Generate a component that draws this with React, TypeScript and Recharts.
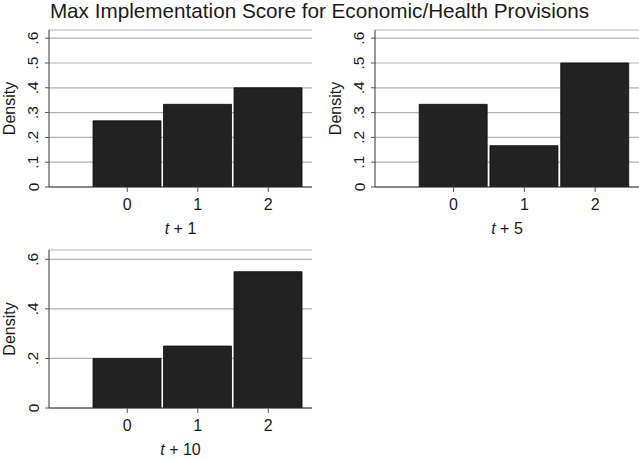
import React from 'react';
import { BarChart, Bar, XAxis, YAxis, CartesianGrid } from 'recharts';

const categories = [0, 1, 2];
const densityT1 = [0.2667, 0.3333, 0.4];
const densityT5 = [0.3333, 0.1667, 0.5];
const densityT10 = [0.2, 0.25, 0.55];
const yTicksFine = [0, 0.1, 0.2, 0.3, 0.4, 0.5, 0.6];
const yTicksCoarse = [0, 0.2, 0.4, 0.6];
const titleText = 'Max Implementation Score for Economic/Health Provisions';

const FONT = '"Liberation Sans", Arial, sans-serif';
const TEXT = '#1a1a1a';

const fmtY = (v: number) => (v === 0 ? '0' : v.toFixed(1).replace(/^0/, ''));

const YTick = (props: any) => {
  const { x, y, payload } = props;
  const cx = x - 10;
  return (
    <text
      x={cx}
      y={y}
      transform={`rotate(-90, ${cx}, ${y})`}
      textAnchor="middle"
      dominantBaseline="central"
      fontSize={15.5}
      fontFamily={FONT}
      fill={TEXT}
    >
      {fmtY(payload.value)}
    </text>
  );
};

const XTick = (props: any) => {
  const { x, y, payload } = props;
  return (
    <text x={x} y={y + 16} textAnchor="middle" fontSize={16} fontFamily={FONT} fill={TEXT}>
      {payload.value}
    </text>
  );
};

const DensityLabel = (props: any) => {
  const { viewBox } = props;
  const cx = viewBox.x + viewBox.width - 40;
  const cy = viewBox.y + viewBox.height / 2;
  return (
    <text
      x={cx}
      y={cy}
      transform={`rotate(-90, ${cx}, ${cy})`}
      textAnchor="middle"
      dominantBaseline="central"
      fontSize={16}
      fontFamily={FONT}
      fill={TEXT}
    >
      Density
    </text>
  );
};

const LagLabel = (props: any) => {
  const { viewBox, lag } = props;
  const cx = viewBox.x + viewBox.width / 2;
  return (
    <text x={cx} y={viewBox.y + 47} textAnchor="middle" fontSize={16} fontFamily={FONT} fill={TEXT}>
      <tspan fontStyle="italic">t</tspan> + {lag}
    </text>
  );
};

interface PanelProps {
  values: number[];
  lag: number;
  yTicks: number[];
  yMax: number;
  left: number;
  top: number;
  width: number;
  height: number;
  yAxisWidth: number;
  rightMargin: number;
  xAxisHeight: number;
}

const Panel: React.FC<PanelProps> = ({
  values, lag, yTicks, yMax, left, top, width, height, yAxisWidth, rightMargin, xAxisHeight,
}) => {
  const data = categories.map((c, i) => ({ x: c, density: values[i] }));
  return (
    <div style={{ position: 'absolute', left, top }}>
      <BarChart
        width={width}
        height={height}
        data={data}
        margin={{ top: 30, right: rightMargin, bottom: 0, left: 0 }}
        barCategoryGap={0}
        barGap={0}
      >
        <CartesianGrid horizontal vertical={false} stroke="#b3b3b3" strokeWidth={1.2} />
        <XAxis
          dataKey="x"
          type="number"
          domain={[-1.11, 2.62]}
          ticks={categories}
          allowDataOverflow
          height={xAxisHeight}
          stroke="#333"
          tickSize={5}
          tickLine={{ stroke: '#555' }}
          tick={<XTick />}
          label={<LagLabel lag={lag} />}
        />
        <YAxis
          type="number"
          domain={[0, yMax]}
          ticks={yTicks}
          width={yAxisWidth}
          stroke="#333"
          tickSize={4}
          tickLine={{ stroke: '#555' }}
          tick={<YTick />}
          label={<DensityLabel />}
          allowDataOverflow
        />
        <Bar
          dataKey="density"
          fill="#222222"
          stroke="#0d0d0d"
          strokeWidth={0.8}
          barSize={68}
          isAnimationActive={false}
        />
      </BarChart>
    </div>
  );
};

export default function App() {
  return (
    <div
      style={{
        position: 'absolute',
        left: 0,
        top: 0,
        width: 639,
        height: 459,
        background: '#fff',
        overflow: 'hidden',
      }}
    >
      <div
        style={{
          position: 'absolute',
          left: 0,
          top: -1,
          width: 639,
          textAlign: 'center',
          fontFamily: FONT,
          fontSize: 20.7,
          color: TEXT,
          whiteSpace: 'nowrap',
        }}
      >
        {titleText}
      </div>
      <Panel values={densityT1} lag={1} yTicks={yTicksFine} yMax={0.633}
        left={0} top={0} width={320} height={240} yAxisWidth={49} rightMargin={8} xAxisHeight={53} />
      <Panel values={densityT5} lag={5} yTicks={yTicksFine} yMax={0.633}
        left={320} top={0} width={319} height={240} yAxisWidth={55} rightMargin={0} xAxisHeight={53} />
      <Panel values={densityT10} lag={10} yTicks={yTicksCoarse} yMax={0.6375}
        left={0} top={220} width={320} height={239} yAxisWidth={49} rightMargin={8} xAxisHeight={51} />
    </div>
  );
}
